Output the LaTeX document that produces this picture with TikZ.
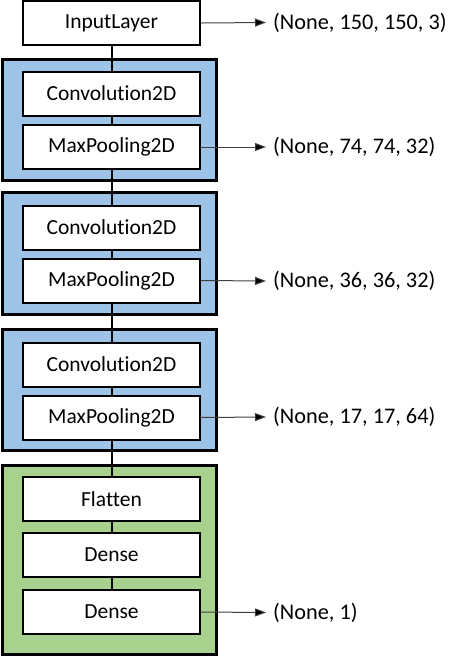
\documentclass[tikz,border=0pt]{standalone}
\usepackage{fontspec}
\setmainfont{Carlito}[Ligatures=NoCommon]
\usetikzlibrary{arrows.meta}
\definecolor{grpblue}{HTML}{9DC3E6}
\definecolor{grpgreen}{HTML}{A9D18E}
\definecolor{arrgray}{HTML}{404040}
\begin{document}
\begin{tikzpicture}[x=1pt,y=-1pt,
  layerbox/.style={draw=black,line width=2pt,fill=white,minimum width=177pt,minimum height=44pt,inner sep=0pt,font=\fontsize{21.5}{24}\selectfont},
  groupbox/.style={draw=black,line width=3pt},
  link/.style={draw=black,line width=2pt},
  outarrow/.style={draw=arrgray,line width=1pt,-{Triangle[length=11pt,width=8pt,fill=black]}},
  shapelabel/.style={anchor=west,inner sep=7pt,font=\fontsize{22.3}{24}\selectfont}]
\useasboundingbox (0,0) rectangle (462,657);
% groups
\path[groupbox,fill=grpblue] (2.5,59.5) rectangle (216.5,180.5);
\path[groupbox,fill=grpblue] (2.5,192.5) rectangle (216.5,314);
\path[groupbox,fill=grpblue] (2.5,329.5) rectangle (216.5,450.5);
\path[groupbox,fill=grpgreen] (2.5,465.5) rectangle (216.5,654.5);
% layers
\node[layerbox] (in) at (111.5,23) {InputLayer};
\node[layerbox] (c1) at (111.5,93.5) {Convolution2D};
\node[layerbox] (p1) at (111.5,147) {MaxPooling2D};
\node[layerbox] (c2) at (111.5,227.5) {Convolution2D};
\node[layerbox] (p2) at (111.5,280.5) {MaxPooling2D};
\node[layerbox] (c3) at (111.5,364.5) {Convolution2D};
\node[layerbox] (p3) at (111.5,417.5) {MaxPooling2D};
\node[layerbox] (fl) at (111.5,499) {Flatten};
\node[layerbox] (d1) at (111.5,555) {Dense};
\node[layerbox] (d2) at (111.5,612) {Dense};
% vertical links
\draw[link] (in.south) -- (c1.north);
\draw[link] (c1.south) -- (p1.north);
\draw[link] (p1.south) -- (c2.north);
\draw[link] (c2.south) -- (p2.north);
\draw[link] (p2.south) -- (c3.north);
\draw[link] (c3.south) -- (p3.north);
\draw[link] (p3.south) -- (fl.north);
\draw[link] (fl.south) -- (d1.north);
\draw[link] (d1.south) -- (d2.north);
% output shapes
\node[shapelabel] (oin) at (266,22.5) {(None, 150, 150, 3)};
\node[shapelabel] (op1) at (266,147) {(None, 74, 74, 32)};
\node[shapelabel] (op2) at (266,281) {(None, 36, 36, 32)};
\node[shapelabel] (op3) at (266,417) {(None, 17, 17, 64)};
\node[shapelabel] (od2) at (266,612.5) {(None, 1)};
\draw[outarrow] (in.east) -- (oin.west);
\draw[outarrow] (p1.east) -- (op1.west);
\draw[outarrow] (p2.east) -- (op2.west);
\draw[outarrow] (p3.east) -- (op3.west);
\draw[outarrow] (d2.east) -- (od2.west);
\end{tikzpicture}
\end{document}
